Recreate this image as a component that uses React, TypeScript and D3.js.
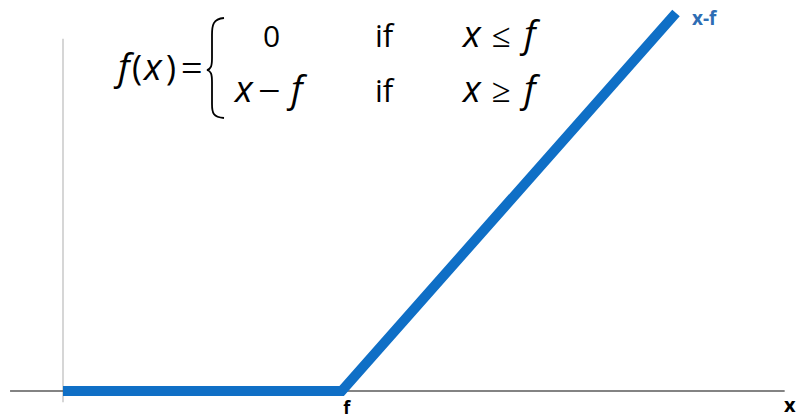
import React from "react";
import * as d3 from "d3";

// Data
const threshold = 5; // "f"
const xDomainMax = 11;
const xValues = [0, threshold, xDomainMax];
const yValues = xValues.map((v) => Math.max(0, v - threshold));
const axisXRange = [-0.95, 12.95];
const axisYRange = [-0.18, 5.59];
const lineLabel = "x-f";
const xAxisLabel = "x";
const thresholdLabel = "f";

const W = 797;
const H = 419;

export default function App() {
  const x = d3.scaleLinear().domain([0, xDomainMax]).range([63, 676]);
  const y = d3.scaleLinear().domain([0, 6]).range([391, 13]);
  const pts: [number, number][] = xValues.map((v, i) => [v, yValues[i]]);
  const line = d3
    .line<[number, number]>()
    .x((d) => x(d[0]))
    .y((d) => y(d[1]));

  const blue = "#0F6FC6";
  const sans = "'Open Sans', 'Liberation Sans', sans-serif";
  const serif = "'Liberation Serif', 'DejaVu Serif', serif";
  const mi = 37; // math italic size
  const mr = 34; // math roman size

  const it = (xx: number, yy: number, s: string) => (
    <text x={xx} y={yy} fontFamily={sans} fontStyle="italic" fontSize={mi}>
      {s}
    </text>
  );

  return (
    <svg
      width={W}
      height={H}
      style={{ position: "absolute", left: 0, top: 0, background: "#fff" }}
    >
      {/* y axis */}
      <line
        x1={x(0)}
        x2={x(0)}
        y1={y(axisYRange[0])}
        y2={y(axisYRange[1])}
        stroke="#c8c8c8"
        strokeWidth={1.5}
      />
      {/* x axis */}
      <line
        x1={x(axisXRange[0])}
        x2={x(axisXRange[1])}
        y1={y(0)}
        y2={y(0)}
        stroke="#5a5a5a"
        strokeWidth={1.5}
      />
      {/* function */}
      <path
        d={line(pts) || ""}
        fill="none"
        stroke={blue}
        strokeWidth={10}
        strokeLinejoin="miter"
        strokeLinecap="butt"
      />
      <text
        x={x(xDomainMax) + 16}
        y={25}
        fill="#2E6DB4"
        fontFamily={sans}
        fontWeight="bold"
        fontSize={19}
      >
        {lineLabel}
      </text>
      <text
        x={x(threshold) + 5}
        y={414}
        textAnchor="middle"
        fill="#000"
        fontFamily={sans}
        fontWeight="bold"
        fontSize={18}
      >
        {thresholdLabel}
      </text>
      <text
        x={784}
        y={412}
        fill="#000"
        fontFamily={sans}
        fontWeight="bold"
        fontSize={20}
      >
        {xAxisLabel}
      </text>

      {/* formula */}
      <g fill="#000">
        {it(118, 80, "f")}
        <text x={132} y={80} fontFamily={sans} fontSize={mr}>
          (
        </text>
        {it(144, 80, "x")}
        <text x={166} y={80} fontFamily={sans} fontSize={mr}>
          )
        </text>
        <text x={181} y={81} fontFamily={serif} fontSize={38}>
          =
        </text>
        {/* brace */}
        <path
          d="M224,18 C213,19 212,25 212,35 L212,58 C212,66 211,69 207,70 C211,71 212,74 212,82 L212,104 C212,113 213,117 224,118"
          fill="none"
          stroke="#000"
          strokeWidth={1.8}
        />
        <text x={263} y={47} fontFamily={sans} fontSize={30}>
          0
        </text>
        <text x={375} y={47} fontFamily={sans} fontSize={31}>
          if
        </text>
        {it(463, 47, "x")}
        <text x={492} y={47} fontFamily={serif} fontSize={34}>
          ≤
        </text>
        {it(524, 47, "f")}

        {it(235, 102, "x")}
        <text x={258} y={104} fontFamily={serif} fontSize={40}>
          −
        </text>
        {it(291, 102, "f")}
        <text x={375} y={102} fontFamily={sans} fontSize={31}>
          if
        </text>
        {it(463, 102, "x")}
        <text x={492} y={102} fontFamily={serif} fontSize={34}>
          ≥
        </text>
        {it(524, 102, "f")}
      </g>
    </svg>
  );
}
